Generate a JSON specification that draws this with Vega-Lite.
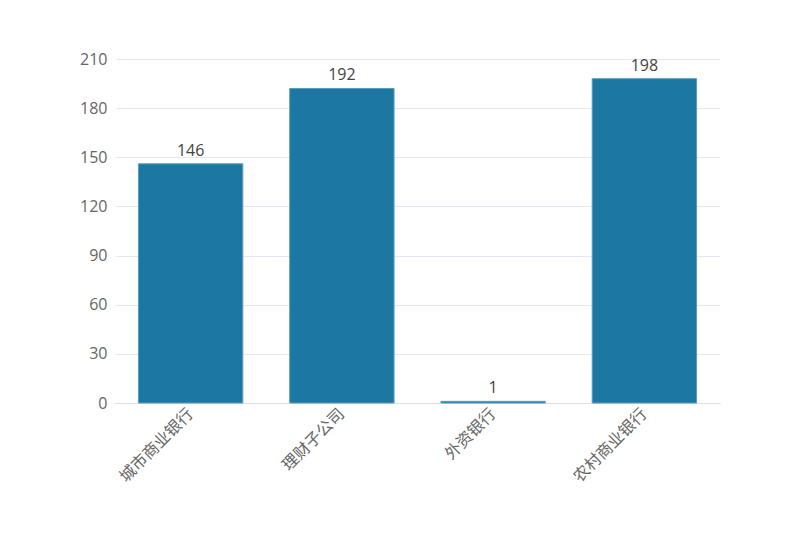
{
  "$schema": "https://vega.github.io/schema/vega-lite/v6.json",
  "autosize": {"type": "none"},
  "width": 605,
  "height": 344,
  "padding": {"left": 115, "top": 59, "right": 80, "bottom": 157},
  "background": "white",
  "config": {"view": {"stroke": null}, "font": "Noto Sans CJK SC"},
  "data": {"values": [
    {"category": "城市商业银行", "value": 146},
    {"category": "理财子公司", "value": 192},
    {"category": "外资银行", "value": 1},
    {"category": "农村商业银行", "value": 198}
  ]},
  "encoding": {
    "x": {"field": "category", "type": "nominal", "sort": null,
      "scale": {"paddingInner": 0.31, "paddingOuter": 0.155},
      "axis": {"title": null, "labelAngle": -45, "labelAlign": "right", "labelBaseline": "middle", "labelFontSize": 16, "labelColor": "#666666", "labelFont": "Noto Sans CJK SC", "ticks": false, "labelPadding": 8, "domainColor": "#dcdfe6", "grid": false}},
    "y": {"field": "value", "type": "quantitative",
      "scale": {"domain": [0, 210]},
      "axis": {"title": null, "values": [0, 30, 60, 90, 120, 150, 180, 210], "labelFontSize": 16, "labelColor": "#666666", "labelFont": "Open Sans", "ticks": false, "domain": false, "labelPadding": 8, "gridColor": "#e4e8f0", "gridWidth": 1}}
  },
  "layer": [
    {"mark": {"type": "bar", "color": "#1c78a2", "stroke": "#5a9cbf", "strokeWidth": 1}},
    {"mark": {"type": "text", "dy": -13, "fontSize": 16, "color": "#444444", "font": "Open Sans"},
      "encoding": {"text": {"field": "value", "type": "quantitative"}}}
  ]
}
